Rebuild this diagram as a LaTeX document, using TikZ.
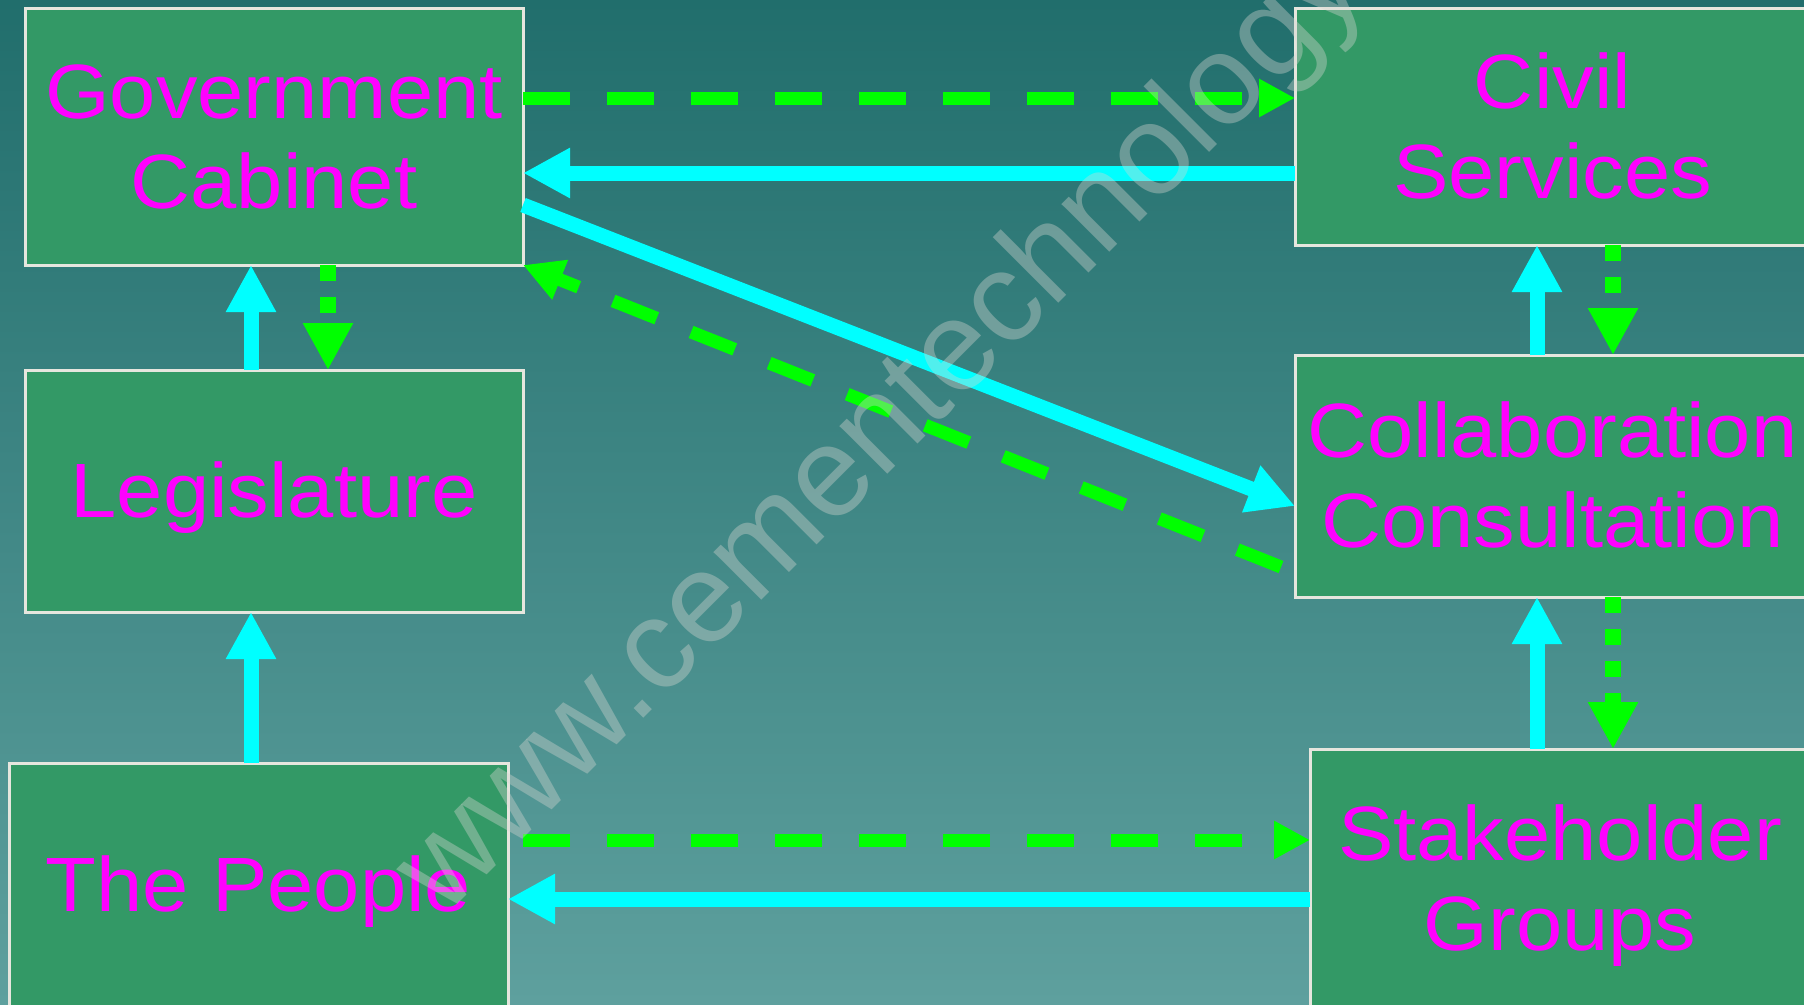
\documentclass[tikz,border=0pt]{standalone}
\usepackage{fontspec}
\setmainfont{Liberation Sans}
\newfontfamily\boxfont[FakeStretch=1.08]{Liberation Sans}
\usetikzlibrary{arrows.meta}
\definecolor{bgtop}{RGB}{33,110,108}
\definecolor{bgbot}{RGB}{94,160,158}
\definecolor{boxfill}{RGB}{51,153,102}
\definecolor{boxline}{RGB}{230,230,222}
\definecolor{mag}{RGB}{255,0,255}
\definecolor{cyanc}{RGB}{0,255,255}
\definecolor{greenc}{RGB}{0,255,0}
\definecolor{wmark}{RGB}{215,215,210}
\newcommand\ppl{\rule[-16.3pt]{0pt}{86pt}}
\begin{document}
\begin{tikzpicture}[x=1pt,y=-1pt,
  box/.style={draw=boxline, line width=3pt, fill=boxfill, text=mag,
    font=\boxfont\fontsize{77pt}{90pt}\selectfont, align=center,
    inner sep=0pt, outer sep=0pt},
  cyanarr/.style={draw=cyanc, line width=15pt, -{Triangle[length=47pt,width=47pt]}},
  greenh/.style={draw=greenc, line width=13pt, dash pattern=on 47pt off 37pt,
    -{Triangle[length=36pt,width=36pt]}},
  greend/.style={draw=greenc, line width=13pt, dash pattern=on 47pt off 37pt,
    -{Triangle[length=40pt,width=40pt]}},
  greenv/.style={draw=greenc, line width=16pt, dash pattern=on 16pt off 16pt,
    -{Triangle[length=47pt,width=47pt]}},
  watermark/.style={anchor=base west, rotate=45, inner sep=0pt, text=wmark,
    text opacity=0.38, font=\fontsize{128pt}{128pt}\selectfont}]
\clip (0,0) rectangle (1804,1004);
\shade[top color=bgtop, bottom color=bgbot] (0,0) rectangle (1804,1004);

% boxes
\node[box, minimum width=498pt, minimum height=257pt] (gov) at (274,136.5) {\ppl Government\\\ppl Cabinet};
\node[box, minimum width=515pt, minimum height=237pt] (civil) at (1552.5,126.5) {\ppl Civil\\\ppl Services};
\node[box, minimum width=498pt, minimum height=242pt] (legis) at (274,491) {\ppl Legislature};
\node[box, minimum width=515pt, minimum height=242pt] (collab) at (1552.5,476) {\ppl Collaboration\\\ppl Consultation};
\node[box, minimum width=499pt, minimum height=243pt] (people) at (258.5,884.5) {\ppl The People};
\node[box, minimum width=500pt, minimum height=260pt] (stake) at (1560,879) {\ppl Stakeholder\\\ppl Groups};

% helper coordinates for free ends
\coordinate (gdstart) at (1281,567);
\coordinate (gpstart) at (523,840);

% top row
\draw[greenh] (gov.east |- 0,98) -- (civil.west |- 0,98);
\draw[cyanarr] (civil.west |- 0,173) -- (gov.east |- 0,173);
% diagonals
\draw[cyanarr] (gov.east |- 0,205) -- (collab.west |- 0,506);
\draw[greend] (gdstart) -- (gov.south east);
% left column
\draw[cyanarr] (legis.north -| 251,0) -- (gov.south -| 251,0);
\draw[greenv] (gov.south -| 328,0) -- (legis.north -| 328,0);
\draw[cyanarr] (people.north -| 251,0) -- (legis.south -| 251,0);
% right column
\draw[cyanarr] (collab.north -| 1537,0) -- (civil.south -| 1537,0);
\draw[greenv] (civil.south -| 1613,0) -- (collab.north -| 1613,0);
\draw[cyanarr] (stake.north -| 1537,0) -- (collab.south -| 1537,0);
\draw[greenv] (collab.south -| 1613,0) -- (stake.north -| 1613,0);
% bottom row
\draw[greenh] (gpstart) -- (stake.west |- 0,840);
\draw[cyanarr] (stake.west |- 0,899) -- (people.east |- 0,899);

% watermark
\node[watermark] (wm) at (444,918) {www.cementechnology};
\end{tikzpicture}
\end{document}
